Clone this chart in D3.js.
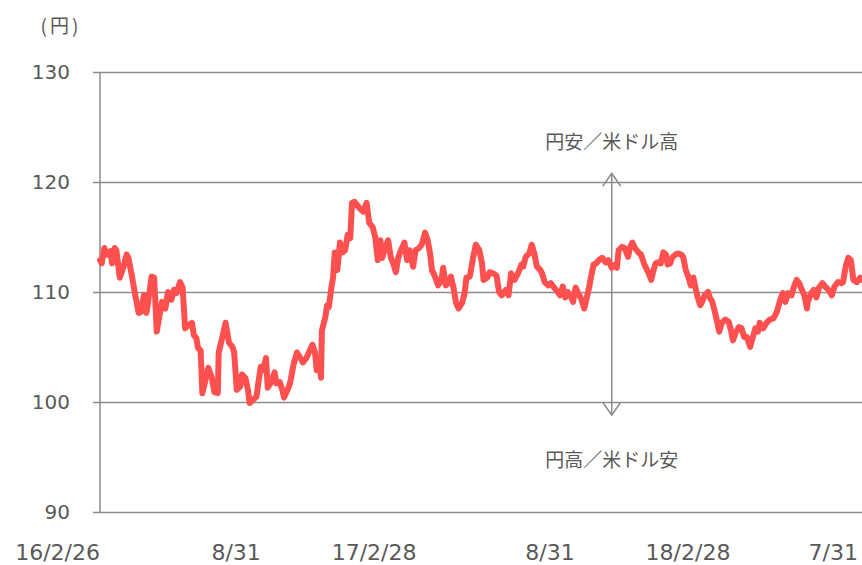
<!DOCTYPE html>
<html>
<head>
<meta charset="utf-8">
<script src="https://cdn.jsdelivr.net/npm/d3@7"></script>
<style>
  html, body { margin: 0; padding: 0; background: #fff; }
  #chart { width: 862px; height: 565px; }
  .tick-label { font-family: "DejaVu Sans", Verdana, sans-serif; fill: #595959; }
  .note { font-family: "Noto Sans CJK JP", sans-serif; fill: #595959; }
</style>
</head>
<body>
<div id="chart"></div>
<script>
// ==========================================================
// USD/JPY daily rate, 2016/2/26 - 2018/7/31
// ==========================================================

// Dates of the traced points (yyyy-mm-dd)
const dates = [
  '2016-02-26', '2016-02-28', '2016-03-02', '2016-03-05', '2016-03-09', '2016-03-11', '2016-03-14', '2016-03-16',
  '2016-03-20', '2016-03-24', '2016-03-28', '2016-03-30', '2016-04-03', '2016-04-07', '2016-04-11', '2016-04-14',
  '2016-04-17', '2016-04-20', '2016-04-22', '2016-04-26', '2016-04-29', '2016-05-02', '2016-05-06', '2016-05-08',
  '2016-05-12', '2016-05-15', '2016-05-19', '2016-05-22', '2016-05-25', '2016-05-29', '2016-06-01', '2016-06-04',
  '2016-06-08', '2016-06-12', '2016-06-14', '2016-06-17', '2016-06-19', '2016-06-22', '2016-06-24', '2016-06-27',
  '2016-07-01', '2016-07-05', '2016-07-08', '2016-07-12', '2016-07-13', '2016-07-17', '2016-07-21', '2016-07-25',
  '2016-07-29', '2016-07-31', '2016-08-03', '2016-08-07', '2016-08-09', '2016-08-13', '2016-08-16', '2016-08-18',
  '2016-08-22', '2016-08-26', '2016-08-28', '2016-08-31', '2016-09-03', '2016-09-06', '2016-09-08', '2016-09-12',
  '2016-09-16', '2016-09-18', '2016-09-22', '2016-09-25', '2016-09-27', '2016-10-01', '2016-10-04', '2016-10-08',
  '2016-10-12', '2016-10-16', '2016-10-19', '2016-10-23', '2016-10-27', '2016-10-30', '2016-11-02', '2016-11-04',
  '2016-11-07', '2016-11-09', '2016-11-10', '2016-11-14', '2016-11-16', '2016-11-18', '2016-11-21', '2016-11-23',
  '2016-11-25', '2016-11-28', '2016-12-01', '2016-12-04', '2016-12-07', '2016-12-10', '2016-12-13', '2016-12-15',
  '2016-12-18', '2016-12-24', '2016-12-28', '2017-01-01', '2017-01-04', '2017-01-08', '2017-01-11', '2017-01-14',
  '2017-01-17', '2017-01-19', '2017-01-23', '2017-01-26', '2017-01-29', '2017-02-01', '2017-02-04', '2017-02-07',
  '2017-02-10', '2017-02-14', '2017-02-17', '2017-02-20', '2017-02-24', '2017-02-27', '2017-03-03', '2017-03-06',
  '2017-03-10', '2017-03-13', '2017-03-16', '2017-03-18', '2017-03-22', '2017-03-25', '2017-03-29', '2017-03-31',
  '2017-04-03', '2017-04-06', '2017-04-09', '2017-04-12', '2017-04-15', '2017-04-18', '2017-04-22', '2017-04-25',
  '2017-04-27', '2017-05-01', '2017-05-05', '2017-05-08', '2017-05-12', '2017-05-15', '2017-05-17', '2017-05-21',
  '2017-05-24', '2017-05-28', '2017-06-01', '2017-06-04', '2017-06-07', '2017-06-12', '2017-06-15', '2017-06-18',
  '2017-06-22', '2017-06-26', '2017-06-30', '2017-07-02', '2017-07-05', '2017-07-09', '2017-07-12', '2017-07-15',
  '2017-07-18', '2017-07-22', '2017-07-24', '2017-07-27', '2017-07-31', '2017-08-03', '2017-08-07', '2017-08-11',
  '2017-08-14', '2017-08-17', '2017-08-20', '2017-08-23', '2017-08-27', '2017-08-29', '2017-09-01', '2017-09-04',
  '2017-09-08', '2017-09-11', '2017-09-14', '2017-09-17', '2017-09-19', '2017-09-22', '2017-09-25', '2017-09-28',
  '2017-10-02', '2017-10-06', '2017-10-09', '2017-10-13', '2017-10-17', '2017-10-19', '2017-10-21', '2017-10-25',
  '2017-10-28', '2017-11-01', '2017-11-03', '2017-11-06', '2017-11-09', '2017-11-13', '2017-11-16', '2017-11-20',
  '2017-11-23', '2017-11-25', '2017-11-28', '2017-11-30', '2017-12-03', '2017-12-06', '2017-12-09', '2017-12-12',
  '2017-12-15', '2017-12-17', '2017-12-20', '2017-12-22', '2017-12-26', '2017-12-29', '2018-01-02', '2018-01-04',
  '2018-01-07', '2018-01-10', '2018-01-13', '2018-01-16', '2018-01-18', '2018-01-21', '2018-01-24', '2018-01-26',
  '2018-01-29', '2018-02-02', '2018-02-04', '2018-02-07', '2018-02-09', '2018-02-12', '2018-02-15', '2018-02-18',
  '2018-02-22', '2018-02-26', '2018-03-01', '2018-03-03', '2018-03-06', '2018-03-10', '2018-03-13', '2018-03-16',
  '2018-03-19', '2018-03-23', '2018-03-25', '2018-03-29', '2018-04-01', '2018-04-03', '2018-04-07', '2018-04-11',
  '2018-04-15', '2018-04-19', '2018-04-23', '2018-04-27', '2018-04-30', '2018-05-03', '2018-05-06', '2018-05-10',
  '2018-05-13', '2018-05-16', '2018-05-19', '2018-05-22', '2018-05-25', '2018-05-28', '2018-05-29', '2018-06-02',
  '2018-06-05', '2018-06-08', '2018-06-11', '2018-06-15', '2018-06-18', '2018-06-22', '2018-06-26', '2018-06-29',
  '2018-07-03', '2018-07-07', '2018-07-09', '2018-07-12', '2018-07-15', '2018-07-18', '2018-07-21', '2018-07-25',
  '2018-07-29', '2018-07-31',
];

// Yen per dollar at each date above
const rates = [
  112.9, 112.6, 114.0, 113.4, 113.7, 112.6, 114.0, 113.8,
  111.3, 112.2, 113.4, 113.1, 111.5, 109.7, 108.1, 108.2,
  109.7, 108.1, 109.1, 111.4, 111.3, 106.4, 108.2, 109.1,
  108.5, 110.0, 109.3, 110.2, 109.9, 110.9, 110.4, 106.7,
  107.0, 107.2, 106.1, 105.8, 104.9, 104.7, 100.8, 101.8,
  103.1, 102.2, 100.9, 100.8, 104.5, 105.8, 107.2, 105.4,
  105.0, 104.5, 101.1, 101.4, 102.5, 102.2, 101.1, 99.9,
  100.2, 100.5, 101.7, 103.2, 102.9, 104.0, 101.3, 101.8,
  102.7, 101.7, 101.8, 101.1, 100.4, 101.1, 101.7, 103.4,
  104.5, 104.0, 103.6, 104.0, 104.7, 105.2, 104.5, 102.9,
  103.6, 102.2, 106.5, 107.7, 108.8, 108.6, 110.4, 111.3,
  113.6, 112.0, 114.5, 113.6, 113.8, 115.2, 114.9, 118.1,
  118.2, 117.6, 117.3, 118.1, 116.3, 115.9, 115.0, 112.9,
  114.7, 113.1, 114.1, 114.7, 113.2, 112.6, 111.8, 113.2,
  113.8, 114.5, 112.9, 113.8, 112.3, 113.8, 114.0, 114.3,
  115.4, 114.7, 113.4, 112.0, 111.3, 110.6, 111.1, 112.2,
  110.6, 110.8, 111.4, 110.4, 109.0, 108.5, 109.0, 109.9,
  111.3, 111.4, 113.2, 114.3, 113.8, 112.7, 111.1, 111.3,
  111.8, 111.7, 111.5, 110.0, 109.7, 110.2, 109.7, 111.7,
  111.1, 111.7, 112.5, 112.3, 113.2, 113.5, 114.3, 113.5,
  112.3, 112.0, 111.7, 110.9, 110.6, 110.8, 110.4, 110.0,
  109.7, 110.5, 109.5, 110.0, 109.5, 109.1, 110.4, 109.9,
  109.3, 108.5, 109.5, 110.5, 111.4, 112.5, 112.6, 112.9,
  113.1, 112.7, 112.9, 112.2, 112.5, 112.2, 113.8, 114.1,
  114.0, 113.2, 114.0, 114.5, 114.0, 113.6, 113.4, 112.5,
  112.0, 111.7, 111.1, 111.8, 112.6, 112.7, 112.6, 113.6,
  113.4, 112.5, 112.6, 113.1, 113.4, 113.5, 113.4, 113.2,
  112.0, 111.4, 110.6, 111.3, 110.5, 109.5, 108.8, 109.1,
  109.7, 110.0, 109.5, 109.1, 108.5, 107.5, 106.4, 107.2,
  107.5, 107.3, 106.4, 105.6, 106.3, 106.8, 106.7, 105.9,
  105.9, 105.0, 105.6, 106.7, 106.4, 107.2, 106.7, 107.2,
  107.5, 107.6, 108.2, 109.3, 109.9, 109.1, 109.9, 109.7,
  110.5, 111.1, 110.8, 110.2, 109.7, 108.5, 109.1, 109.9,
  110.2, 109.5, 110.4, 110.8, 110.5, 110.2, 109.7, 110.5,
  110.9, 110.8, 110.9, 112.3, 113.1, 112.9, 111.1, 110.9,
  111.3, 111.1,
];

// Y axis
const yTicks = [90, 100, 110, 120, 130];

// X axis labels
const xTickDates = ['2016-02-26', '2016-08-31', '2017-02-28', '2017-08-31', '2018-02-28', '2018-07-31'];
const xTickLabels = ['16/2/26', '8/31', '17/2/28', '8/31', '18/2/28', '7/31'];

// Arrow annotation
const arrowDate = '2017-10-13';
const arrowRange = [120.8, 98.8];
const noteUp = '円安／米ドル高';
const noteDown = '円高／米ドル安';

const COLORS = {
  line: '#ff5050',
  grid: '#8c8c8c',
  text: '#595959',
};

// ----------------------------------------------------------
// Chart
// ----------------------------------------------------------

const width = 862;
const height = 565;
const margin = { top: 72, right: 0, bottom: 53, left: 100 };

const parse = d3.timeParse('%Y-%m-%d');
const data = dates.map((d, i) => ({ date: parse(d), value: rates[i] }));

const svg = d3.select('#chart')
  .append('svg')
  .attr('width', width)
  .attr('height', height);

const x = d3.scaleTime()
  .domain([parse(dates[0]), parse(dates[dates.length - 1])])
  .range([margin.left, width - margin.right]);

const y = d3.scaleLinear()
  .domain([90, 130])
  .range([height - margin.bottom, margin.top]);

// Horizontal grid + y tick marks
const yAxis = d3.axisLeft(y)
  .tickValues(yTicks)
  .tickSize(-(width - margin.left - margin.right))
  .tickFormat('');

const gy = svg.append('g')
  .attr('transform', 'translate(' + margin.left + ',0)')
  .call(yAxis);
gy.select('.domain').remove();
gy.selectAll('.tick line')
  .attr('x1', -7)
  .attr('stroke', COLORS.grid)
  .attr('stroke-width', 1.5);

// Left axis line
svg.append('line')
  .attr('x1', margin.left).attr('x2', margin.left)
  .attr('y1', y(130)).attr('y2', y(90))
  .attr('stroke', COLORS.grid)
  .attr('stroke-width', 1.5);

// Y labels
svg.append('g')
  .selectAll('text')
  .data(yTicks)
  .enter()
  .append('text')
  .attr('class', 'tick-label')
  .attr('x', margin.left - 30)
  .attr('y', (d) => y(d))
  .attr('dy', '0.36em')
  .attr('text-anchor', 'end')
  .attr('font-size', 20)
  .text((d) => d);

// Unit
svg.append('text')
  .attr('class', 'note')
  .attr('x', 61)
  .attr('y', 26)
  .attr('dy', '0.36em')
  .attr('text-anchor', 'middle')
  .attr('font-size', 19)
  .attr('letter-spacing', 3)
  .text('(円)');

// X labels (right-aligned on their dates)
svg.append('g')
  .selectAll('text')
  .data(xTickDates)
  .enter()
  .append('text')
  .attr('class', 'tick-label')
  .attr('x', (d) => Math.min(x(parse(d)), width - 4))
  .attr('y', 560)
  .attr('text-anchor', 'end')
  .attr('font-size', 22)
  .text((d, i) => xTickLabels[i]);

// Arrow
const ax = x(parse(arrowDate));
const yTop = y(arrowRange[0]);
const yBot = y(arrowRange[1]);
const arrow = svg.append('g')
  .attr('stroke', COLORS.grid)
  .attr('stroke-width', 1.5)
  .attr('fill', 'none');
arrow.append('line').attr('x1', ax).attr('x2', ax).attr('y1', yTop).attr('y2', yBot);
arrow.append('path').attr('d', 'M' + (ax - 9) + ',' + (yTop + 13) + 'L' + ax + ',' + yTop + 'L' + (ax + 9) + ',' + (yTop + 13));
arrow.append('path').attr('d', 'M' + (ax - 9) + ',' + (yBot - 13) + 'L' + ax + ',' + yBot + 'L' + (ax + 9) + ',' + (yBot - 13));

svg.append('text')
  .attr('class', 'note')
  .attr('x', ax)
  .attr('y', yTop - 24)
  .attr('text-anchor', 'middle')
  .attr('font-size', 19)
  .text(noteUp);

svg.append('text')
  .attr('class', 'note')
  .attr('x', ax)
  .attr('y', yBot + 52)
  .attr('text-anchor', 'middle')
  .attr('font-size', 19)
  .text(noteDown);

// Rate line
const line = d3.line()
  .x((d) => x(d.date))
  .y((d) => y(d.value));

svg.append('path')
  .datum(data)
  .attr('fill', 'none')
  .attr('stroke', COLORS.line)
  .attr('stroke-width', 6)
  .attr('stroke-linejoin', 'round')
  .attr('stroke-linecap', 'round')
  .attr('d', line);
</script>
</body>
</html>
